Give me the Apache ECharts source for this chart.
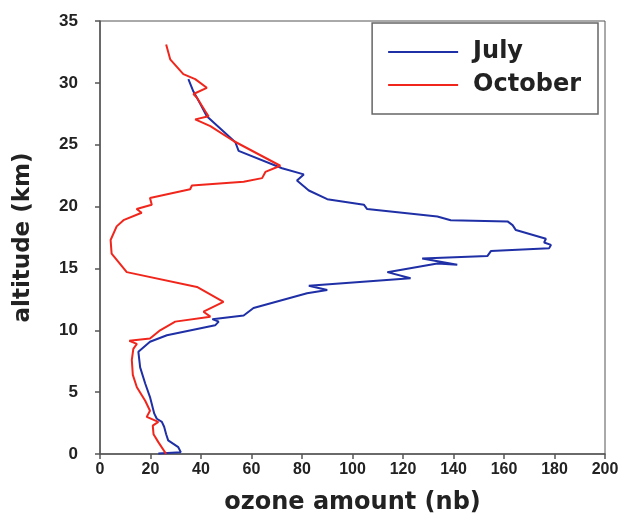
<!DOCTYPE html>
<html>
<head>
<meta charset="utf-8">
<style>
    html, body { margin: 0; padding: 0; background: #fff; }
    #main { width: 626px; height: 515px; }
</style>
</head>
<body>
<div id="main"></div>
<script src="https://cdn.jsdelivr.net/npm/echarts@6/dist/echarts.min.js"></script>
<script>
// July profile: ozone (nb) vs altitude (km)
var julyOzone = [23.1, 32, 31, 27, 26.2, 25.4, 24.5, 22.5, 21.5, 19.8, 17.9, 15.9, 15.2, 19.8, 26.5, 45.6, 47, 44.5, 56.9, 60.8,
    82, 90, 82.7, 123, 113.8, 133.6, 141.5, 127.6, 153.4, 154.8, 177.9, 178.6, 175.9, 176.6, 164.7, 163.4, 161.4, 138.9, 133.6,
    105.8, 104.5, 90, 82.7, 78, 80.7, 72.1, 54.9, 53.6, 42.3, 39.7, 38.4, 37, 35];
var julyAlt = [0.05, 0.15, 0.55, 1.1, 1.6, 2.2, 2.6, 2.85, 3.26, 4.6, 5.7, 7.0, 8.26, 9.07, 9.6, 10.4, 10.7, 10.9, 11.2, 11.8,
    13.0, 13.26, 13.6, 14.2, 14.7, 15.4, 15.3, 15.8, 16.0, 16.4, 16.64, 16.9, 17.1, 17.4, 18.1, 18.5, 18.8, 18.9, 19.2,
    19.8, 20.15, 20.6, 21.3, 22.1, 22.6, 23.1, 24.5, 25.2, 27.3, 28.3, 28.8, 29.3, 30.3];

// October profile
var octOzone = [26.2, 23.1, 21.2, 20.9, 23.1, 18.5, 19.8, 17.9, 14.6, 13, 12.6, 13.2, 14.6, 11.6, 19.8, 23.8, 29.8, 43.7, 41,
    48.9, 38.4, 10.6, 4.6, 4.2, 6.6, 9.3, 16.5, 14.5, 20.5, 19.8, 35.7, 36.4, 56.9, 64.2, 65.5, 71.4, 52.9, 43.7, 37.7, 43,
    41.7, 38.4, 37, 42.3, 37.7, 33, 27.8, 26.2];
var octAlt = [0.0, 0.96, 1.6, 2.3, 2.6, 3.0, 3.5, 4.3, 5.4, 6.4, 7.6, 8.5, 8.9, 9.15, 9.34, 10.0, 10.7, 11.1, 11.5,
    12.3, 13.5, 14.7, 16.2, 17.3, 18.4, 18.9, 19.5, 19.8, 20.15, 20.7, 21.4, 21.7, 22.0, 22.3, 22.8, 23.3, 25.3, 26.5, 27.05, 27.3,
    27.7, 28.8, 29.1, 29.6, 30.3, 30.7, 31.9, 33.1];

function pairs(xs, ys) {
    return xs.map(function (x, i) { return [x, ys[i]]; });
}

var myChart = echarts.init(document.getElementById('main'));
var font = 'Liberation Sans, Arial, sans-serif';
var wideFont = 'DejaVu Sans, Verdana, sans-serif';
var axisColor = '#555';

var option = {
    animation: false,
    backgroundColor: '#fff',
    grid: {
        left: 100, right: 21, top: 21, bottom: 61,
        outerBoundsMode: 'none',
        show: true, borderColor: axisColor, borderWidth: 1
    },
    legend: {
        show: true,
        right: 28, top: 23,
        orient: 'vertical',
        align: 'left',
        padding: [17, 17, 17, 15],
        itemGap: 9,
        itemWidth: 70, itemHeight: 24,
        itemStyle: { opacity: 0 },
        lineStyle: { width: 2 },
        borderColor: '#666', borderWidth: 1.5,
        textStyle: { fontFamily: wideFont, fontWeight: 'bold', fontSize: 24, color: '#222', padding: [0, 0, 0, 10] },
        data: ['July', 'October']
    },
    xAxis: {
        type: 'value', min: 0, max: 200, interval: 20,
        name: 'ozone amount (nb)', nameLocation: 'middle', nameGap: 37,
        nameTextStyle: { fontFamily: wideFont, fontWeight: 'bold', fontSize: 24, color: '#222' },
        axisLine: { show: true, lineStyle: { color: axisColor, width: 1.5 } },
        axisTick: { show: true, inside: false, length: 5, lineStyle: { color: axisColor, width: 1.5 } },
        axisLabel: { fontFamily: font, fontWeight: 'bold', fontSize: 16, color: '#222', margin: 8 },
        splitLine: { show: false }
    },
    yAxis: {
        type: 'value', min: 0, max: 35, interval: 5,
        name: 'altitude (km)', nameLocation: 'middle', nameGap: 65, nameRotate: 90,
        nameTextStyle: { fontFamily: wideFont, fontWeight: 'bold', fontSize: 23, color: '#222' },
        axisLine: { show: true, lineStyle: { color: axisColor, width: 1.5 } },
        axisTick: { show: true, inside: false, length: 5, lineStyle: { color: axisColor, width: 1.5 } },
        axisLabel: { fontFamily: font, fontWeight: 'bold', fontSize: 17, color: '#222', margin: 22 },
        splitLine: { show: false }
    },
    series: [
        {
            name: 'July', type: 'line', data: pairs(julyOzone, julyAlt),
            showSymbol: false, symbol: 'none',
            lineStyle: { color: '#1f2fa6', width: 2 }, itemStyle: { color: '#1f2fa6' }
        },
        {
            name: 'October', type: 'line', data: pairs(octOzone, octAlt),
            showSymbol: false, symbol: 'none',
            lineStyle: { color: '#f0261c', width: 2 }, itemStyle: { color: '#f0261c' }
        }
    ]
};
myChart.setOption(option);
</script>
</body>
</html>
